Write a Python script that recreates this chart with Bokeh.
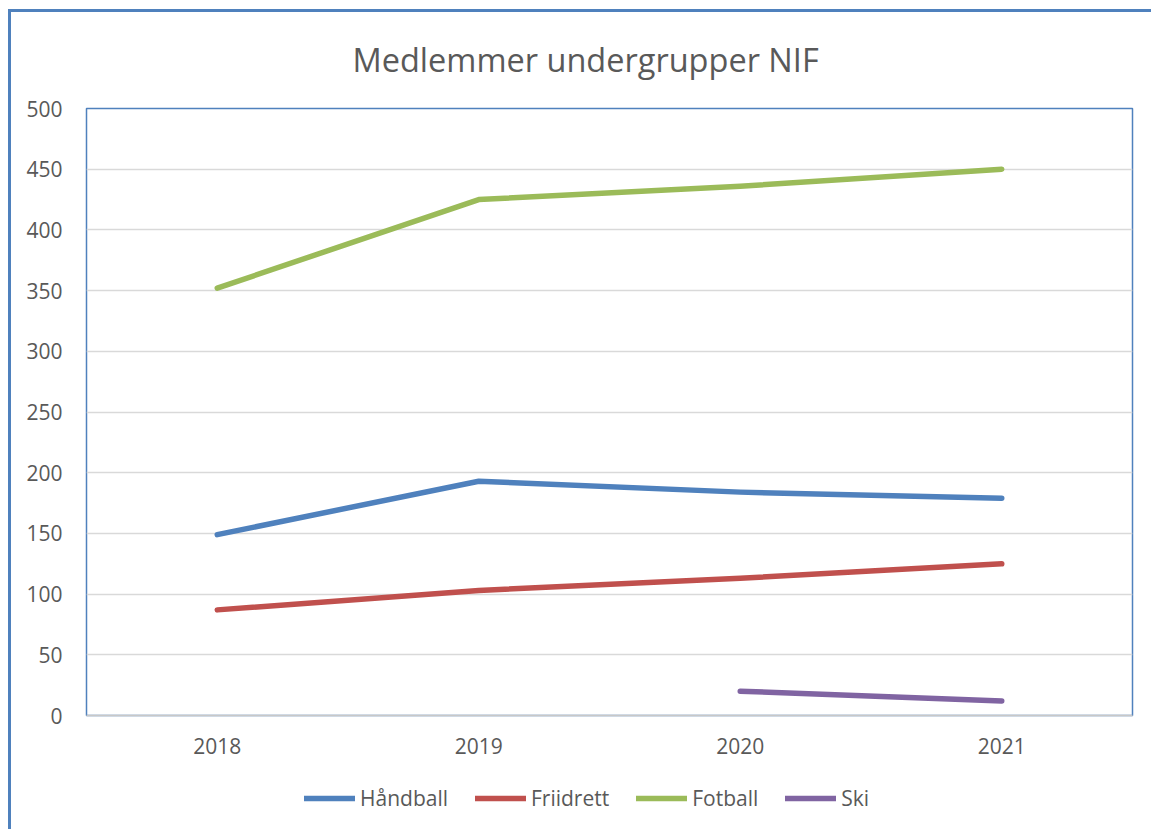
from bokeh.plotting import figure
from bokeh.models import Legend, LegendItem, FixedTicker, Range1d, FactorRange
from bokeh.layouts import column
from bokeh.embed import file_html
from bokeh.resources import INLINE

years = ["2018", "2019", "2020", "2021"]
handball = [149, 193, 184, 179]
friidrett = [87, 103, 113, 125]
fotball = [352, 425, 436, 450]
ski_years = ["2020", "2021"]
ski = [20, 12]
y_ticks = [0, 50, 100, 150, 200, 250, 300, 350, 400, 450, 500]
series_names = ["Håndball", "Friidrett", "Fotball", "Ski"]
colors = ["#4F81BD", "#C0504D", "#9BBB59", "#8064A2"]

FONT = "Open Sans"
TXT = "#595959"
BLUE = "#4F81BD"

p = figure(width=1151, height=760, x_range=FactorRange(*years), y_range=Range1d(0, 500),
           output_backend="svg", toolbar_location=None,
           min_border_left=86, min_border_right=19, min_border_top=108, min_border_bottom=45)
p.background_fill_color = "white"
p.border_fill_alpha = 0
p.outline_line_color = BLUE
p.outline_line_width = 1.5

p.title.text = "Medlemmer undergrupper NIF"
p.title.text_font = FONT
p.title.text_font_size = "32.5px"
p.title.text_font_style = "normal"
p.title.text_color = TXT
p.title.align = "left"
p.title.offset = 266
p.title.standoff = 54

p.xgrid.grid_line_color = None
p.ygrid.grid_line_color = "#D9D9D9"
p.ygrid.grid_line_width = 1.5
p.yaxis.ticker = FixedTicker(ticks=y_ticks)
p.yaxis.axis_line_color = None
p.yaxis.major_tick_line_color = None
p.yaxis.minor_tick_line_color = None
p.yaxis.major_label_text_font = FONT
p.yaxis.major_label_text_font_size = "21px"
p.yaxis.major_label_text_color = TXT
p.yaxis.major_label_standoff = 18

p.xaxis.axis_line_color = "#C8C8C8"
p.xaxis.axis_line_width = 1.5
p.xaxis.major_tick_line_color = None
p.xaxis.minor_tick_line_color = None
p.xaxis.major_label_text_font = FONT
p.xaxis.major_label_text_font_size = "21px"
p.xaxis.major_label_text_color = TXT
p.xaxis.major_label_standoff = 16

lw = 5.5
all_x = [years, years, years, ski_years]
all_y = [handball, friidrett, fotball, ski]
for xs, ys, c in zip(all_x, all_y, colors):
    p.line(xs, ys, line_color=c, line_width=lw, line_cap="round", line_join="round")

# legend strip below the chart
lg = figure(width=1151, height=69, x_range=FactorRange(*years), y_range=Range1d(1000, 1001),
            output_backend="svg", toolbar_location=None, x_axis_type=None, y_axis_type=None,
            min_border_left=0, min_border_right=0, min_border_top=0, min_border_bottom=0)
lg.outline_line_color = None
lg.background_fill_alpha = 0
lg.border_fill_alpha = 0
lg.xgrid.grid_line_color = None
lg.ygrid.grid_line_color = None
items = []
for name, xs, ys, c in zip(series_names, all_x, all_y, colors):
    r = lg.line(xs, ys, line_color=c, line_width=lw, line_cap="round")
    items.append(LegendItem(label=name, renderers=[r]))
legend = Legend(items=items, orientation="horizontal", location=(218, 17),
                label_text_font=FONT, label_text_font_size="21px", label_text_color=TXT,
                glyph_width=51, glyph_height=26, label_height=26, label_standoff=5, spacing=27,
                border_line_color=None, background_fill_alpha=0, margin=0, padding=0)
lg.add_layout(legend, "center")

layout = column(p, lg, spacing=0, styles={
    "background-image": "linear-gradient(#4F81BD,#4F81BD), linear-gradient(#4F81BD,#4F81BD)",
    "background-size": "3px 100%, 100% 3px",
    "background-position": "8px 9px, 8px 9px",
    "background-repeat": "no-repeat",
    "background-color": "white",
})

open("out.html", "w").write(file_html(layout, INLINE))
